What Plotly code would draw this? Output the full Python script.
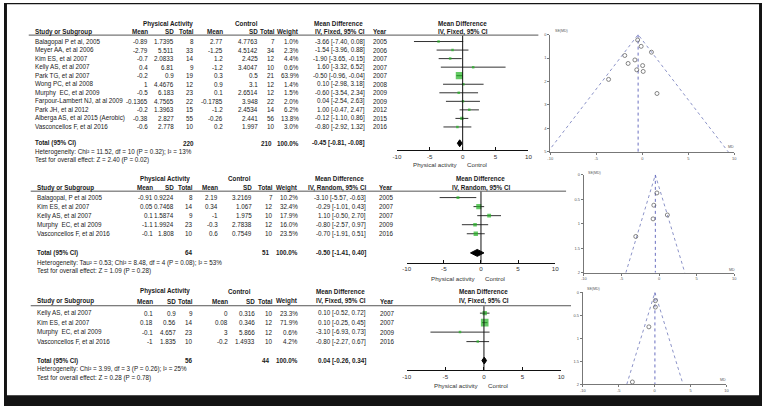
import plotly.graph_objects as go

W, H = 766, 408

# ---------------- DATA ----------------
# Panel 1 (fixed effect)
study1 = ["Balagopal P et al, 2005", "Meyer AA, et al 2006", "Kim ES, et al 2007", "Kelly AS, et al 2007",
          "Park TG, et al 2007", "Wong PC, et al 2008", "Murphy  EC, et al 2009", "Farpour-Lambert NJ, at al 2009",
          "Park JH, et al 2012", "Alberga AS, et al 2015 (Aerobic)", "Vasconcellos F, et al 2016"]
pa_mean1 = [-0.89, -2.79, -0.7, 0.4, -0.2, 1, -0.5, -0.1365, -0.2, -0.38, -0.6]
pa_sd1 = [1.7395, 5.511, 2.0833, 6.81, 0.9, 4.4676, 6.183, 4.7565, 1.3963, 2.827, 2.778]
pa_n1 = [8, 33, 14, 9, 19, 12, 23, 22, 15, 55, 10]
c_mean1 = [2.77, -1.25, 1.2, -1.2, 0.3, 0.9, 0.1, -0.1785, -1.2, -0.26, 0.2]
c_sd1 = [4.7763, 4.5142, 2.425, 3.4047, 0.5, 3.1, 2.6514, 3.948, 2.4534, 2.441, 1.997]
c_n1 = [7, 34, 12, 10, 21, 12, 12, 22, 14, 56, 10]
weight1 = [1.0, 2.3, 4.4, 0.6, 63.9, 1.4, 1.5, 2.0, 6.2, 13.8, 3.0]
md1 = [-3.66, -1.54, -1.90, 1.60, -0.50, 0.10, -0.60, 0.04, 1.00, -0.12, -0.80]
lo1 = [-7.40, -3.96, -3.65, -3.32, -0.96, -2.98, -3.54, -2.54, -0.47, -1.10, -2.92]
hi1 = [0.08, 0.88, -0.15, 6.52, -0.04, 3.18, 2.34, 2.63, 2.47, 0.86, 1.32]
year1 = [2005, 2006, 2007, 2007, 2007, 2008, 2009, 2009, 2012, 2015, 2016]
se1 = [1.91, 1.23, 0.89, 2.51, 0.23, 1.57, 1.50, 1.32, 0.75, 0.50, 1.08]
total1 = dict(pa_n=220, c_n=210, md=-0.45, lo=-0.81, hi=-0.08)
het1 = "Heterogeneity: Chi² = 11.52, df = 10 (P = 0.32); I² = 13%"
test1 = "Test for overall effect: Z = 2.40 (P = 0.02)"

# Panel 2 (random effects)
study2 = ["Balagopal, P et al 2005", "Kim ES, et al 2007", "Kelly AS, et al 2007", "Murphy  EC, et al 2009",
          "Vasconcellos F, et al 2016"]
pa_mean2 = [-0.91, 0.05, 0.1, -1.1, -0.1]
pa_sd2 = [0.9224, 0.7468, 1.5874, 1.9924, 1.808]
pa_n2 = [8, 14, 9, 23, 10]
c_mean2 = [2.19, 0.34, -1, -0.3, 0.6]
c_sd2 = [3.2169, 1.067, 1.975, 2.7838, 0.7549]
c_n2 = [7, 12, 10, 12, 10]
weight2 = [10.2, 32.4, 17.9, 16.0, 23.5]
md2 = [-3.10, -0.29, 1.10, -0.80, -0.70]
lo2 = [-5.57, -1.01, -0.50, -2.57, -1.91]
hi2 = [-0.63, 0.43, 2.70, 0.97, 0.51]
year2 = [2005, 2007, 2007, 2009, 2016]
se2 = [1.26, 0.37, 0.82, 0.90, 0.62]
total2 = dict(pa_n=64, c_n=51, md=-0.50, lo=-1.41, hi=0.40)
het2 = "Heterogeneity: Tau² = 0.53; Chi² = 8.48, df = 4 (P = 0.08); I² = 53%"
test2 = "Test for overall effect: Z = 1.09 (P = 0.28)"

# Panel 3 (fixed effect)
study3 = ["Kelly AS, et al 2007", "Kim ES, et al 2007", "Murphy  EC, et al 2009", "Vasconcellos F, et al 2016"]
pa_mean3 = [0.1, 0.18, -0.1, -1]
pa_sd3 = [0.9, 0.56, 4.657, 1.835]
pa_n3 = [9, 14, 23, 10]
c_mean3 = [0, 0.08, 3, -0.2]
c_sd3 = [0.316, 0.346, 5.866, 1.4933]
c_n3 = [10, 12, 12, 10]
weight3 = [23.3, 71.9, 0.6, 4.2]
md3 = [0.10, 0.10, -3.10, -0.80]
lo3 = [-0.52, -0.25, -6.93, -2.27]
hi3 = [0.72, 0.45, 0.73, 0.67]
year3 = [2007, 2007, 2009, 2016]
se3 = [0.32, 0.18, 1.95, 0.75]
total3 = dict(pa_n=56, c_n=44, md=0.04, lo=-0.26, hi=0.34)
het3 = "Heterogeneity: Chi² = 3.99, df = 3 (P = 0.26); I² = 25%"
test3 = "Test for overall effect: Z = 0.28 (P = 0.78)"

forest_ticks = [-10, -5, 0, 5, 10]
funnel_x_ticks = [-10, -5, 0, 5, 10]
funnel1_y_ticks = [0, 1, 2, 3, 4, 5]
funnel23_y_ticks = [0, 0.5, 1, 1.5, 2]

# ---------------- LAYOUT HELPERS ----------------
FONT = "Liberation Sans, Arial, sans-serif"
TXT = "#1a1a1a"
FS = 6.3
GREEN = "#22b422"

def px(x):
    return x / W

def py(y):
    return 1 - y / H

fig = go.Figure()
ann = []
shapes = []

def text(x, y, s, anchor="left", bold=False, size=FS, color=TXT):
    if bold:
        s = "<b>" + s + "</b>"
    ann.append(dict(x=px(x), y=py(y), xref="paper", yref="paper", text=s, showarrow=False,
                    xanchor=anchor, yanchor="middle", borderpad=0,
                    font=dict(family=FONT, size=size, color=color)))

def fmt(v):
    return f"{v:g}"

panels = [
    dict(study=study1, pm=pa_mean1, psd=pa_sd1, pn=pa_n1, cm=c_mean1, csd=c_sd1, cn=c_n1, w=weight1,
         md=md1, lo=lo1, hi=hi1, yr=year1, se=se1, tot=total1, het=het1, test=test1, method="IV, Fixed, 95% CI",
         L=dict(h1=21, h2=29, ul=32.5, ulx=(25, 540), row0=39, dy=8.65, tot=142, het=151, test=159,
                name=30, c_pm=147, c_psd=173, c_pn=193, c_cm=222, c_csd=258, c_cn=275, c_w=299, c_ci=366, c_yr=372,
                g_pa=166, g_c=245, g_md=338, fx=(397, 530), fax=149, flab=163),
         F=dict(x=(552, 738), y=(32, 150.75), ymax=5, yt=funnel1_y_ticks, se_lab=(556, 28), md_lab=(735, 146))),
    dict(study=study2, pm=pa_mean2, psd=pa_sd2, pn=pa_n2, cm=c_mean2, csd=c_sd2, cn=c_n2, w=weight2,
         md=md2, lo=lo2, hi=hi2, yr=year2, se=se2, tot=total2, het=het2, test=test2, method="IV, Random, 95% CI",
         L=dict(h1=178, h2=187, ul=190.5, ulx=(27, 568), row0=197, dy=9.15, tot=253, het=263, test=271,
                name=32, c_pm=152, c_psd=173, c_pn=192, c_cm=217, c_csd=252, c_cn=273, c_w=298, c_ci=367, c_yr=378,
                g_pa=163, g_c=238, g_md=339, fx=(407, 557), fax=263, flab=279),
         F=dict(x=(586, 738), y=(174, 273), ymax=2, yt=funnel23_y_ticks, se_lab=(589, 172), md_lab=(736, 270))),
    dict(study=study3, pm=pa_mean3, psd=pa_sd3, pn=pa_n3, cm=c_mean3, csd=c_sd3, cn=c_n3, w=weight3,
         md=md3, lo=lo3, hi=hi3, yr=year3, se=se3, tot=total3, het=het3, test=test3, method="IV, Fixed, 95% CI",
         L=dict(h1=292, h2=302, ul=306.5, ulx=(27, 573), row0=314, dy=9.6, tot=362, het=371, test=380,
                name=32, c_pm=152, c_psd=175, c_pn=192, c_cm=227, c_csd=255, c_cn=273, c_w=298, c_ci=367, c_yr=379,
                g_pa=163, g_c=238, g_md=340, fx=(407, 563), fax=372, flab=387),
         F=dict(x=(585, 730), y=(293, 386), ymax=2, yt=funnel23_y_ticks, se_lab=(588, 290), md_lab=(727, 382))),
]

layout_axes = {}
layout_axes["yaxis"] = dict(domain=[0, 1], range=[H, 0], visible=False, fixedrange=True)

for k, p in enumerate(panels):
    L = p["L"]
    fxname = "x" if k == 0 else f"x{k + 1}"
    fxkey = "xaxis" if k == 0 else f"xaxis{k + 1}"
    zero_px = L["fx"][0] + (L["fx"][1] - L["fx"][0]) / 2

    # group headers
    text(L["g_pa"], L["h1"], "Physical Activity", "center", True)
    text(L["g_c"], L["h1"], "Control", "center", True)
    text(L["g_md"], L["h1"], "Mean Difference", "center", True)
    text(zero_px, L["h1"], "Mean Difference", "center", True)
    # column headers
    text(L["name"], L["h2"], "Study or Subgroup", "left", True)
    text(L["c_pm"], L["h2"], "Mean", "right", True)
    text(L["c_psd"], L["h2"], "SD", "right", True)
    text(L["c_pn"], L["h2"], "Total", "right", True)
    text(L["c_cm"], L["h2"], "Mean", "right", True)
    text(L["c_csd"], L["h2"], "SD", "right", True)
    text(L["c_cn"], L["h2"], "Total", "right", True)
    text(L["c_w"], L["h2"], "Weight", "right", True)
    text(L["c_ci"], L["h2"], p["method"], "right", True)
    text(L["c_yr"], L["h2"], "Year", "left", True)
    text(zero_px, L["h2"], p["method"], "center", True)
    shapes.append(dict(type="line", xref="paper", yref="paper", x0=px(L["ulx"][0]), x1=px(L["ulx"][1]),
                       y0=py(L["ul"]), y1=py(L["ul"]), line=dict(color="#555555", width=1)))

    rows_y = []
    for i in range(len(p["study"])):
        ry = L["row0"] + i * L["dy"]
        rows_y.append(ry)
        text(L["name"], ry, p["study"][i], "left")
        text(L["c_pm"], ry, fmt(p["pm"][i]), "right")
        text(L["c_psd"], ry, fmt(p["psd"][i]), "right")
        text(L["c_pn"], ry, str(p["pn"][i]), "right")
        text(L["c_cm"], ry, fmt(p["cm"][i]), "right")
        text(L["c_csd"], ry, fmt(p["csd"][i]), "right")
        text(L["c_cn"], ry, str(p["cn"][i]), "right")
        text(L["c_w"], ry, f"{p['w'][i]:.1f}%", "right")
        text(L["c_ci"], ry, f"{p['md'][i]:.2f} [{p['lo'][i]:.2f}, {p['hi'][i]:.2f}]", "right")
        text(L["c_yr"], ry, str(p["yr"][i]), "left")

    t = p["tot"]
    text(L["name"], L["tot"], "Total (95% CI)", "left", True)
    text(L["c_pn"], L["tot"], str(t["pa_n"]), "right", True)
    text(L["c_cn"] - 3, L["tot"], str(t["c_n"]), "right", True)
    text(L["c_w"], L["tot"], "100.0%", "right", True)
    text(L["c_ci"], L["tot"], f"{t['md']:.2f} [{t['lo']:.2f}, {t['hi']:.2f}]", "right", True)
    text(L["name"], L["het"], p["het"], "left")
    text(L["name"], L["test"], p["test"], "left")
    text(zero_px - 4, L["flab"], "Physical activity", "right", size=6.2, color="#333333")
    text(zero_px + 3, L["flab"], "Control", "left", size=6.2, color="#333333")

    # forest: zero line
    shapes.append(dict(type="line", xref=fxname, yref="y", x0=0, x1=0, y0=L["ul"] + 0.5, y1=L["fax"],
                       line=dict(color="#111111", width=1)))
    # CI lines
    xs, ys = [], []
    for i in range(len(p["md"])):
        xs += [p["lo"][i], p["hi"][i], None]
        ys += [rows_y[i], rows_y[i], None]
    fig.add_trace(go.Scatter(x=xs, y=ys, mode="lines", xaxis=fxname, yaxis="y",
                             line=dict(color="#333333", width=1), hoverinfo="skip"))
    # squares
    sizes = [max(2.5, 0.9 * (w ** 0.5)) for w in p["w"]]
    fig.add_trace(go.Scatter(x=p["md"], y=rows_y, mode="markers", xaxis=fxname, yaxis="y",
                             marker=dict(symbol="square", size=sizes, color=GREEN, line=dict(width=0))))
    # diamond
    ty = L["tot"]
    fig.add_trace(go.Scatter(x=[t["lo"], t["md"], t["hi"], t["md"], t["lo"]],
                             y=[ty, ty - 3.5, ty, ty + 3.5, ty], mode="lines", fill="toself",
                             fillcolor="#000000", line=dict(color="#000000", width=1),
                             xaxis=fxname, yaxis="y", hoverinfo="skip"))
    layout_axes[fxkey] = dict(domain=[px(L["fx"][0]), px(L["fx"][1])], range=[-10, 10], anchor="free",
                              position=py(L["fax"]), showline=True, linecolor="#111111", linewidth=1,
                              ticks="inside", ticklen=3, tickcolor="#111111", tickwidth=1,
                              tickvals=forest_ticks, ticktext=[str(v) for v in forest_ticks],
                              tickfont=dict(family=FONT, size=6.2, color="#333333"),
                              showgrid=False, zeroline=False, fixedrange=True)

    # funnel plot
    F = p["F"]
    n = k + 4
    fx_ = f"x{n}"
    fy_ = f"y{n}"
    ymax = F["ymax"]
    pooled = t["md"]
    fig.add_trace(go.Scatter(x=[pooled - 1.96 * ymax, pooled, pooled + 1.96 * ymax], y=[ymax, 0, ymax],
                             mode="lines", line=dict(color="#8c93c8", width=1, dash="dot"),
                             xaxis=fx_, yaxis=fy_, hoverinfo="skip"))
    fig.add_trace(go.Scatter(x=[pooled, pooled], y=[0, ymax], mode="lines",
                             line=dict(color="#6a6fc0", width=1, dash="dot"),
                             xaxis=fx_, yaxis=fy_, hoverinfo="skip"))
    fig.add_trace(go.Scatter(x=p["md"], y=p["se"], mode="markers", xaxis=fx_, yaxis=fy_,
                             marker=dict(symbol="circle-open", size=4, color="#666666", line=dict(width=0.8))))
    layout_axes[f"xaxis{n}"] = dict(domain=[px(F["x"][0]), px(F["x"][1])], range=[-10, 10], anchor=fy_,
                                    showline=True, linecolor="#777777", linewidth=1, ticks="outside",
                                    ticklen=2, tickcolor="#777777", tickvals=funnel_x_ticks,
                                    ticktext=[str(v) for v in funnel_x_ticks],
                                    tickfont=dict(family=FONT, size=4, color="#555555"),
                                    showgrid=False, zeroline=False, fixedrange=True)
    layout_axes[f"yaxis{n}"] = dict(domain=[py(F["y"][1]), py(F["y"][0])], range=[ymax, 0], anchor=fx_,
                                    showline=True, linecolor="#777777", linewidth=1, ticks="outside",
                                    ticklen=2, tickcolor="#777777", tickvals=F["yt"],
                                    ticktext=[fmt(v) for v in F["yt"]],
                                    tickfont=dict(family=FONT, size=4, color="#555555"),
                                    showgrid=False, zeroline=False, fixedrange=True)
    text(F["se_lab"][0], F["se_lab"][1], "SE(MD)", "left", size=3.6, color="#555555")
    text(F["md_lab"][0], F["md_lab"][1], "MD", "center", size=3.6, color="#555555")

# outer frame
FR = "#141414"
for (x0, x1, y0, y1) in [(0, W, 0, 1.2), (0, 3, 0, H), (W - 3, W, 0, H), (0, W, 397, H)]:
    shapes.append(dict(type="rect", xref="paper", yref="paper", x0=px(x0), x1=px(x1), y0=py(y1), y1=py(y0),
                       fillcolor=FR, line=dict(width=0), layer="above"))

fig.update_layout(width=W, height=H, autosize=False, margin=dict(l=0, r=0, t=0, b=0, pad=0),
                  paper_bgcolor="white", plot_bgcolor="rgba(0,0,0,0)", showlegend=False,
                  annotations=ann, shapes=shapes, font=dict(family=FONT), **layout_axes)

fig.write_html("out.html", config={"displayModeBar": False, "staticPlot": True},
               post_script="document.body.style.margin='0';document.body.style.overflow='hidden';")
